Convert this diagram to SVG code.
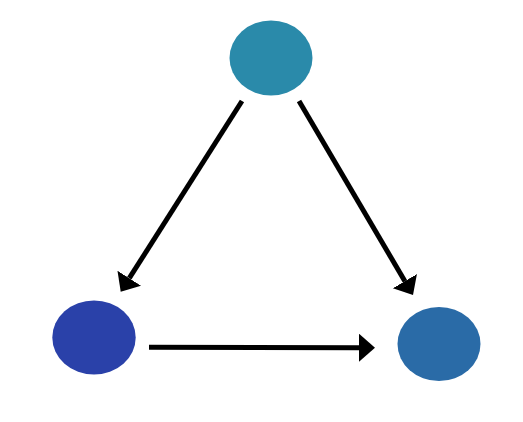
<svg xmlns="http://www.w3.org/2000/svg" width="523" height="422" viewBox="0 0 523 422">
<style>
.edge{stroke:#000;stroke-width:5;fill:none;marker-end:url(#ah)}
</style>
<defs>
<marker id="ah" markerUnits="userSpaceOnUse" markerWidth="17" markerHeight="29" refX="0" refY="14" orient="auto" viewBox="0 0 17 29">
<path d="M0,0 L16,14 L0,28 z" fill="#000"/>
</marker>
</defs>
<rect width="523" height="422" fill="#fff"/>
<g id="n-top"><ellipse cx="271" cy="58" rx="41.5" ry="37.5" fill="#2a8aaa"/></g>
<g id="n-left"><ellipse cx="94" cy="337.5" rx="41.7" ry="37" fill="#2a41a9"/></g>
<g id="n-right"><ellipse cx="439" cy="344" rx="41.5" ry="37" fill="#2a6ba7"/></g>
<g id="edges">
<line class="edge" x1="242" y1="101" x2="129.3" y2="278.2"/>
<line class="edge" x1="299" y1="101" x2="404.9" y2="281.2"/>
<line class="edge" x1="149" y1="347.2" x2="359" y2="347.7"/>
</g>
</svg>
